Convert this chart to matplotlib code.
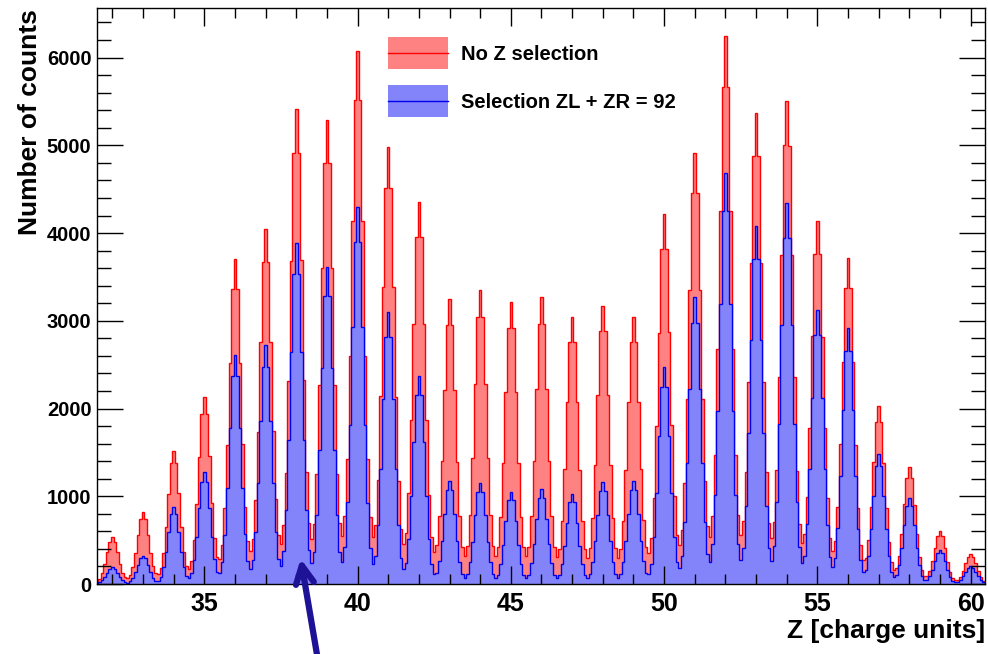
import matplotlib
matplotlib.use("Agg")
import matplotlib.pyplot as plt
import numpy as np
from matplotlib.patches import Rectangle
from matplotlib.ticker import MultipleLocator

plt.rcParams['font.family'] = ['Liberation Sans', 'DejaVu Sans']
plt.rcParams['font.weight'] = 'bold'

# peak heights per charge Z
z_values = np.arange(32, 61)
no_selection = [530, 820, 1516, 2130, 3705, 4047, 5414, 5280, 6077, 4975,
                4357, 3250, 3350, 3210, 3270, 3040, 3170, 3040, 4210, 4913,
                6246, 5370, 5505, 4138, 3715, 2030, 1330, 600, 345]
selection_92 = [190, 320, 878, 1276, 2610, 2724, 3887, 3613, 4297, 3100,
                2370, 1174, 1150, 1050, 1083, 1026, 1163, 1174, 2470, 3270,
                4684, 4080, 4340, 3120, 2918, 1480, 980, 390, 205]
# line shape of one peak: (core width, tail width, tail fraction)
red_shape = (0.18, 0.28, 0.15)
blue_shape = (0.19, 0.26, 0.0)
x_ticks = [35, 40, 45, 50, 55, 60]
y_ticks = [0, 1000, 2000, 3000, 4000, 5000, 6000]

# binning of the histogram (12 bins per charge unit)
bw = 1 / 12
edges = np.arange(31.5 - bw / 2, 60.5 + bw, bw)
centres = 0.5 * (edges[:-1] + edges[1:])


def bin_counts(heights, shape):
    core, tail, frac = shape
    counts = np.zeros_like(centres)
    for z, h in zip(z_values, heights):
        d2 = (centres - z) ** 2
        counts += h * ((1 - frac) * np.exp(-d2 / (2 * core ** 2))
                       + frac * np.exp(-d2 / (2 * tail ** 2)))
    return counts


red_counts = bin_counts(no_selection, red_shape)
blue_counts = bin_counts(selection_92, blue_shape)

fig = plt.figure(figsize=(9.88, 6.54), dpi=100)
ax = fig.add_axes([97 / 988, 70 / 654, 888 / 988, 576 / 654])

ax.stairs(red_counts, edges, fill=True, facecolor='#ff8282', edgecolor='none')
ax.stairs(red_counts, edges, color='#ff0000', lw=1)
ax.stairs(blue_counts, edges, fill=True, facecolor='#8484fa', edgecolor='none')
ax.stairs(blue_counts, edges, color='#0000ee', lw=1)

ax.set_xlim(31.5, 60.47)
ax.set_ylim(0, 6565)
ax.set_xticks(x_ticks)
ax.set_yticks(y_ticks)
ax.xaxis.set_minor_locator(MultipleLocator(1))
ax.yaxis.set_minor_locator(MultipleLocator(200))
ax.tick_params(axis='x', which='major', direction='in', length=13, width=1,
               top=True, labelsize=18, pad=6)
ax.tick_params(axis='x', which='minor', direction='in', length=7, width=1, top=True)
ax.tick_params(axis='y', which='major', direction='in', length=19, width=1,
               right=True, labelsize=14.5, pad=4)
ax.tick_params(axis='y', which='minor', direction='in', length=10, width=1, right=True)
for lab in ax.get_xticklabels() + ax.get_yticklabels():
    lab.set_fontweight('bold')
for s in ax.spines.values():
    s.set_linewidth(1)

# axis titles, ROOT style
fig.text(30 / 988, 1 - 9 / 654, 'Number of counts', rotation=90,
         ha='center', va='top', fontsize=19, fontweight='bold')
fig.text(985 / 988, 1 - 631 / 654, 'Z [charge units]', ha='right',
         va='center', fontsize=19, fontweight='bold')

# legend drawn by hand
for (y0, fc, lc, label) in [(37, '#ff8282', '#ff0000', 'No Z selection'),
                            (85, '#8484fa', '#0000ee', 'Selection ZL + ZR = 92')]:
    x0, y1 = 388, y0 + 32
    fig.patches.append(Rectangle((x0 / 988, 1 - y1 / 654), 60 / 988, 32 / 654,
                                 transform=fig.transFigure, facecolor=fc,
                                 edgecolor='none'))
    fig.add_artist(plt.Line2D([x0 / 988, 448 / 988],
                              [1 - (y0 + 16) / 654] * 2, color=lc, lw=1,
                              transform=fig.transFigure))
    fig.text(461 / 988, 1 - (y0 + 17) / 654, label, ha='left', va='center',
             fontsize=14.5, fontweight='bold')

# arrow pointing at the Z = 38 peak
ax.annotate('', xy=(38.13, 320), xycoords='data',
            xytext=(318 / 988, -0.01), textcoords='figure fraction',
            arrowprops=dict(arrowstyle='->,head_length=1.3,head_width=0.65',
                            color='#1e1296', lw=4.5),
            annotation_clip=False)

fig.savefig('out.png', dpi=100)
